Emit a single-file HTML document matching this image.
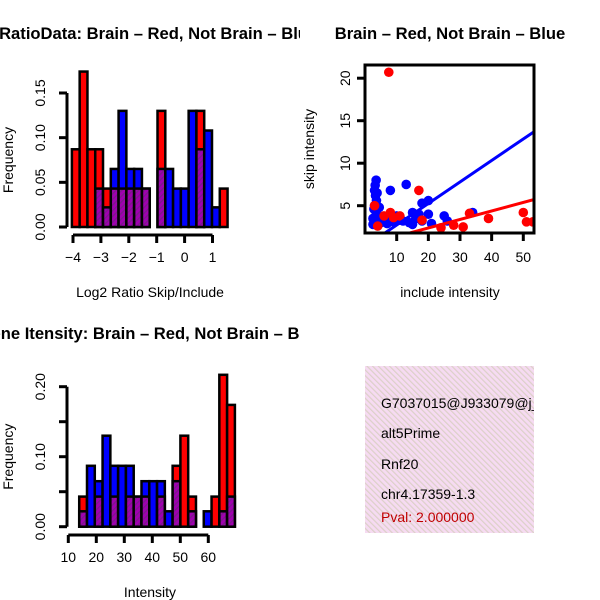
<!DOCTYPE html>
<html><head><meta charset="utf-8"><style>
html,body{margin:0;padding:0;background:#fff}
svg{display:block;font-family:"Liberation Sans",sans-serif}
</style></head><body>
<svg id="chart" width="600" height="600" viewBox="0 0 600 600" xmlns="http://www.w3.org/2000/svg">
<defs>
<pattern id="hatch" patternUnits="userSpaceOnUse" width="4" height="4" patternTransform="rotate(45)">
<rect width="4" height="4" fill="#a000b0"/><rect width="1.3" height="4" fill="#7a1a8a"/></pattern>
<pattern id="pinkhatch" patternUnits="userSpaceOnUse" width="4" height="4" patternTransform="rotate(-45)">
<rect width="4" height="4" fill="#f6dbf2"/><rect width="1.2" height="4" fill="#dcd0c8"/></pattern>
<clipPath id="c1"><rect x="0" y="0" width="300" height="300"/></clipPath>
<clipPath id="c3"><rect x="0" y="300" width="300" height="300"/></clipPath>
<clipPath id="c4"><rect x="365" y="366" width="169" height="167"/></clipPath>
<clipPath id="cs"><rect x="366" y="66" width="167" height="166"/></clipPath>
</defs>
<g id="g1" clip-path="url(#c1)"></g>
<g id="g2"></g>
<g id="g3" clip-path="url(#c3)"></g>
<g id="g4">
<rect x="365" y="366" width="169" height="167" fill="url(#pinkhatch)"/>
<g clip-path="url(#c4)" font-size="14">
<text x="381" y="408">G7037015@J933079@j_</text>
<text x="381" y="438">alt5Prime</text>
<text x="381" y="469">Rnf20</text>
<text x="381" y="499">chr4.17359-1.3</text>
<text x="381" y="522" fill="#c00000">Pval: 2.000000</text>
</g></g>
</svg>
<script>
// ---- Histogram 1 data (Log2 ratio) ----
const ratioBinStart = -4.04;
const ratioBinWidth = 0.279;
const ratioRed  = [0.087,0.174,0.087,0.087,0.043,0.043,0.043,0.043,0.043,0.043,0,0.13,0,0,0,0,0.13,0,0,0.043];
const ratioBlue = [0,0,0,0.043,0.022,0.065,0.13,0.065,0.065,0.043,0,0.065,0.065,0.043,0.043,0.13,0.087,0.108,0.022,0];
const ratioXTicks = [-4,-3,-2,-1,0,1];
const ratioYTicks = [0,0.05,0.10,0.15];
const ratioYLabels = ["0.00","0.05","0.10","0.15"];
// ---- Histogram 2 data (Intensity) ----
const intBinStart = 13.9;
const intBinWidth = 2.78;
const intRed  = [0.043,0,0.043,0,0.043,0,0.043,0.043,0.043,0,0.043,0,0.087,0.13,0.043,0,0,0.043,0.217,0.174];
const intBlue = [0.022,0.087,0.065,0.13,0.087,0.087,0.087,0.043,0.065,0.065,0.065,0.022,0.065,0,0.022,0,0.022,0,0.022,0.043];
const intXTicks = [10,20,30,40,50,60];
const intYTicks = [0,0.05,0.10,0.15,0.20];
const intYLabels = ["0.00","","0.10","","0.20"];
// ---- Scatter data ----
const blueX = [3.5,3.2,3,3.3,3.6,3,2.8,3.5,4,2.5,3,5,6,8,7,13,8,18,20,15,17,16,14,12,20,21,25,26,34,10,11,15,18,4,2.5,4.5,5.5,9,3.8];
const blueY = [8,7.4,6.8,6.2,5.6,5,4.6,4.2,3.8,3.5,3.2,3,3.3,3.5,2.9,7.5,6.8,5.3,5.6,4.2,4,3.5,3,3.2,4,2.9,3.8,3.2,4.2,3.8,3.3,2.8,3.2,3,2.8,4.8,3.4,3.1,6.5];
const redX = [7.5,8,17,11,9,18,4,24,28,31,33,39,50,51,53,6,3];
const redY = [20.7,4.2,6.8,3.8,3.6,3.3,2.6,2.4,2.7,2.5,4.1,3.5,4.2,3.1,3.1,3.8,5];
const blueFit = [0.2,0.253];
const redFit = [0.38,0.1];
const scXTicks = [10,20,30,40,50];
const scYTicks = [5,10,15,20];

const NS="http://www.w3.org/2000/svg";
function mk(parent,tag,attrs,txt){const e=document.createElementNS(NS,tag);for(const k in attrs)e.setAttribute(k,attrs[k]);if(txt!==undefined)e.textContent=txt;parent.appendChild(e);return e;}

function hist(g,cfg){
  const {red,blue,start,w,xs,ys,yAxisX,xAxisY,xTicks,yTicks,yLabels,xLabelY,title,titleX,xlab,ylab,titleY,xlabY} = cfg;
  for(let i=0;i<red.length;i++){
    const a=start+i*w,b=a+w,r=red[i],bl=blue[i];
    const hi=Math.max(r,bl),lo=Math.min(r,bl);
    if(hi<=0)continue;
    const col=r>=bl?"#ff0000":"#0000ff";
    const rect=mk(g,"rect",{x:xs(a),y:ys(hi),width:xs(b)-xs(a),height:ys(0)-ys(hi),fill:col,stroke:"#000","stroke-width":2.5});
    
    
    if(lo>0){
      const p=mk(g,"rect",{x:xs(a),y:ys(lo),width:xs(b)-xs(a),height:ys(0)-ys(lo),fill:"url(#hatch)",stroke:"#000","stroke-width":2.5});
      
      
    }
  }
  const ya=mk(g,"line",{x1:yAxisX,x2:yAxisX,y1:ys(yTicks[0]),y2:ys(yTicks[yTicks.length-1]),stroke:"#000","stroke-width":3});
  
  
  yTicks.forEach((t,i)=>{
    mk(g,"line",{x1:yAxisX-8,x2:yAxisX,y1:ys(t),y2:ys(t),stroke:"#000","stroke-width":3});
    if(yLabels[i]){const tx=mk(g,"text",{x:yAxisX-22,y:ys(t),"font-size":14,"text-anchor":"middle",transform:`rotate(-90 ${yAxisX-22} ${ys(t)})`},yLabels[i]);
    
    }
  });
  const xa=mk(g,"line",{x1:xs(xTicks[0]),x2:xs(xTicks[xTicks.length-1]),y1:xAxisY,y2:xAxisY,stroke:"#000","stroke-width":3});
  
  
  xTicks.forEach(t=>{
    mk(g,"line",{x1:xs(t),x2:xs(t),y1:xAxisY,y2:xAxisY+8,stroke:"#000","stroke-width":3});
    const tx=mk(g,"text",{x:xs(t),y:xLabelY,"font-size":14,"text-anchor":"middle"},String(t).replace('-','\u2212'));
    
    
  });
  const tt=mk(g,"text",{x:titleX,y:titleY,"font-size":16.6,"font-weight":"bold","text-anchor":"middle"},title);
  
  
  const xl=mk(g,"text",{x:150,y:xlabY,"font-size":14,"text-anchor":"middle"},xlab);
  
  
  const yc=(ys(yTicks[0])+ys(yTicks[yTicks.length-1]))/2;
  const yl=mk(g,"text",{x:13,y:yc,"font-size":14,"text-anchor":"middle",transform:`rotate(-90 13 ${yc})`},ylab);
  
  
}

hist(document.getElementById('g1'),{red:ratioRed,blue:ratioBlue,start:ratioBinStart,w:ratioBinWidth,
  xs:v=>73+(v+4)*27.9, ys:v=>227-v*(134/0.15), yAxisX:67, xAxisY:235,
  xTicks:ratioXTicks,yTicks:ratioYTicks,yLabels:ratioYLabels,xLabelY:262,
  title:"Log2 RatioData: Brain \u2013 Red, Not Brain \u2013 Blue",titleX:136,xlab:"Log2 Ratio Skip/Include",ylab:"Frequency",titleY:39,xlabY:297});

hist(document.getElementById('g3'),{red:intRed,blue:intBlue,start:intBinStart,w:intBinWidth,
  xs:v=>68.3+(v-10)*2.8, ys:v=>526.7-v*700, yAxisX:67, xAxisY:535,
  xTicks:intXTicks,yTicks:intYTicks,yLabels:intYLabels,xLabelY:562,
  title:"Gene Itensity: Brain \u2013 Red, Not Brain \u2013 Blue",titleX:151,xlab:"Intensity",ylab:"Frequency",titleY:339,xlabY:597});

(function(){
  const g=document.getElementById('g2');
  const xs=v=>396.7+(v-10)*3.165, ys=v=>205.7-(v-5)*8.5;
  const pts=mk(g,"g",{"clip-path":"url(#cs)"});
  blueX.forEach((x,i)=>{const c=mk(pts,"circle",{cx:xs(x),cy:ys(blueY[i]),r:4.8,fill:"#0000ff"});
    
    });
  redX.forEach((x,i)=>{const c=mk(pts,"circle",{cx:xs(x),cy:ys(redY[i]),r:4.8,fill:"#ff0000"});
    
    });
  const bl=mk(pts,"line",{x1:xs(0),y1:ys(blueFit[0]),x2:xs(60),y2:ys(blueFit[0]+60*blueFit[1]),stroke:"#0000ff","stroke-width":3});
  
  
  const rl=mk(pts,"line",{x1:xs(0),y1:ys(redFit[0]),x2:xs(60),y2:ys(redFit[0]+60*redFit[1]),stroke:"#ff0000","stroke-width":3});
  
  
  const box=mk(g,"rect",{x:365,y:65,width:169,height:168,fill:"none",stroke:"#000","stroke-width":3});
  
  
  scXTicks.forEach(t=>{mk(g,"line",{x1:xs(t),x2:xs(t),y1:233,y2:241,stroke:"#000","stroke-width":3});
    const tx=mk(g,"text",{x:xs(t),y:262,"font-size":14,"text-anchor":"middle"},String(t));
    
    });
  scYTicks.forEach(t=>{mk(g,"line",{x1:357,x2:365,y1:ys(t),y2:ys(t),stroke:"#000","stroke-width":3});
    const tx=mk(g,"text",{x:350,y:ys(t),"font-size":14,"text-anchor":"middle",transform:`rotate(-90 350 ${ys(t)})`},String(t));
    
    });
  const tt=mk(g,"text",{x:450,y:39,"font-size":16.6,"font-weight":"bold","text-anchor":"middle"},"Brain \u2013 Red, Not Brain \u2013 Blue");
  
  
  const xl=mk(g,"text",{x:450,y:297,"font-size":14,"text-anchor":"middle"},"include intensity");
  
  
  const yl=mk(g,"text",{x:314,y:149,"font-size":14,"text-anchor":"middle",transform:"rotate(-90 314 149)"},"skip intensity");
  
  
})();
</script>
</body></html>
